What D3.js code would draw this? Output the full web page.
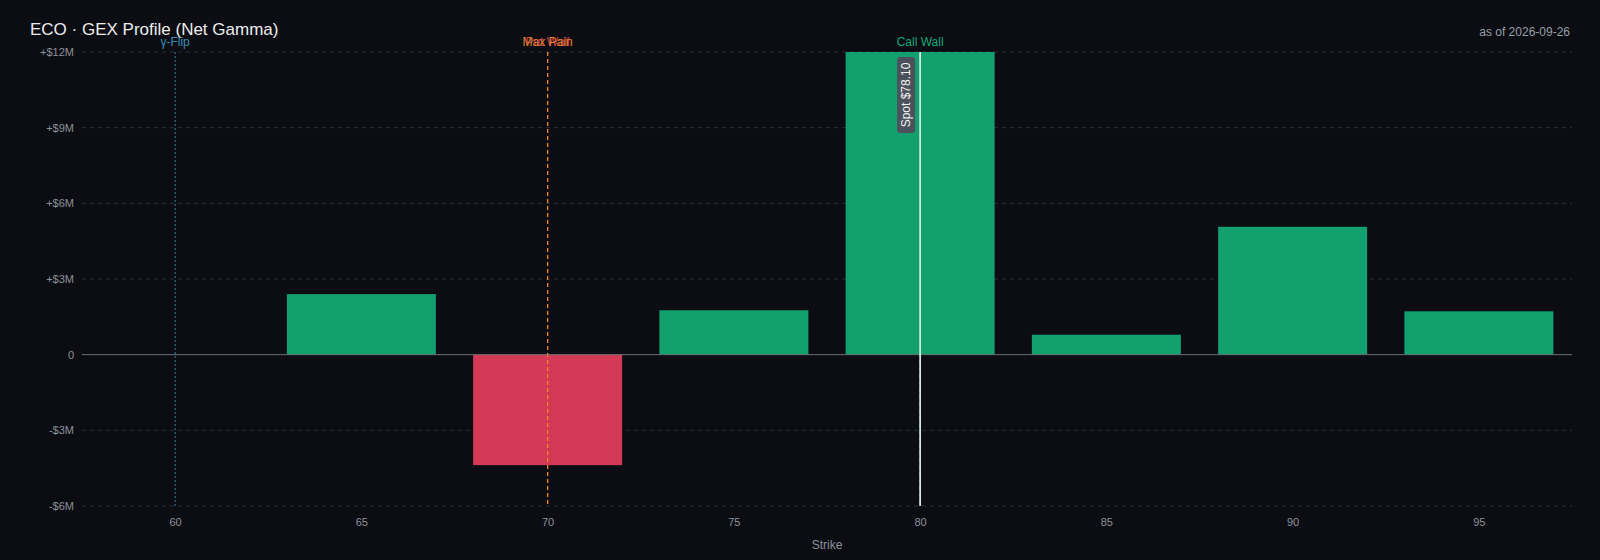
<!DOCTYPE html>
<html>
<head>
<meta charset="utf-8">
<script src="https://cdn.jsdelivr.net/npm/d3@7"></script>
<style>
  html, body { margin: 0; padding: 0; background: #0b0d13; }
  svg { display: block; font-family: "Liberation Sans", Arial, sans-serif; }
</style>
</head>
<body>
<svg id="chart" width="1600" height="560"></svg>
<script>
// data ($M net gamma exposure per strike)
var strikes = [60, 65, 70, 75, 80, 85, 90, 95];
var netGamma = [0, 2.40, -4.38, 1.76, 12.0, 0.79, 5.07, 1.72];
var yTicks = [-6, -3, 0, 3, 6, 9, 12];

// key levels
var gammaFlip = 60;
var maxPain = 70;
var putWall = 70;
var callWall = 80;
var spotPrice = 78.10;
var asOfDate = "2026-09-26";
var ticker = "ECO";

var width = 1600, height = 560;
var margin = {top: 52, right: 28, bottom: 54, left: 82};

var svg = d3.select("#chart");

var x = d3.scaleLinear()
	.domain([d3.min(strikes) - 2.5, d3.max(strikes) + 2.5])
	.range([margin.left, width - margin.right]);

var y = d3.scaleLinear()
	.domain([d3.min(yTicks), d3.max(yTicks)])
	.range([height - margin.bottom, margin.top]);

var barW = 4; // strike units (spacing 5 * 0.8)

function fmtM(v) {
	if (v == 0) return "0";
	return (v > 0 ? "+$" : "-$") + Math.abs(v) + "M";
}

//grid
svg.append("g")
	.selectAll("line")
	.data(yTicks.filter(function(t) { return t != 0; }))
	.join("line")
	.attr("x1", margin.left).attr("x2", width - margin.right)
	.attr("y1", function(d) { return y(d); }).attr("y2", function(d) { return y(d); })
	.attr("stroke", "#2a2e36")
	.attr("stroke-dasharray", "4,4");

//y axis
var yAxis = svg.append("g")
	.attr("transform", "translate(" + margin.left + ",0)")
	.call(d3.axisLeft(y).tickValues(yTicks).tickFormat(fmtM).tickSize(0).tickPadding(8));
yAxis.select(".domain").remove();
yAxis.selectAll("text").attr("fill", "#8e9198").attr("font-size", 11);

//x axis
var xAxis = svg.append("g")
	.attr("transform", "translate(0," + (height - margin.bottom) + ")")
	.call(d3.axisBottom(x).tickValues(strikes).tickFormat(d3.format("d")).tickSize(0).tickPadding(12));
xAxis.select(".domain").remove();
xAxis.selectAll("text").attr("fill", "#8e9198").attr("font-size", 11);

svg.append("text")
	.attr("x", (margin.left + width - margin.right) / 2)
	.attr("y", height - 11)
	.attr("text-anchor", "middle")
	.attr("fill", "#8e9198")
	.attr("font-size", 12)
	.text("Strike");

//bars
svg.append("g")
	.selectAll("rect")
	.data(strikes.map(function(s, i) { return {strike: s, value: netGamma[i]}; }))
	.join("rect")
	.attr("x", function(d) { return x(d.strike - barW / 2); })
	.attr("width", function(d) { return x(d.strike + barW / 2) - x(d.strike - barW / 2); })
	.attr("y", function(d) { return y(Math.max(0, d.value)); })
	.attr("height", function(d) { return Math.abs(y(d.value) - y(0)); })
	.attr("fill", function(d) { return d.value >= 0 ? "#12a06f" : "#d43a56"; });

//zero line
svg.append("line")
	.attr("x1", margin.left).attr("x2", width - margin.right)
	.attr("y1", y(0)).attr("y2", y(0))
	.attr("stroke", "#6a707b")
	.attr("stroke-width", 1);

//level lines
var plotTop = margin.top, plotBottom = height - margin.bottom;
function vline(v, color, dash, w) {
	svg.append("line")
		.attr("x1", x(v)).attr("x2", x(v))
		.attr("y1", plotTop).attr("y2", plotBottom)
		.attr("stroke", color)
		.attr("stroke-width", w)
		.attr("stroke-dasharray", dash);
}
function vlabel(v, color, txt) {
	svg.append("text")
		.attr("x", x(v)).attr("y", plotTop - 6)
		.attr("text-anchor", "middle")
		.attr("fill", color)
		.attr("font-size", 12)
		.text(txt);
}

vline(gammaFlip, "#3a8db5", "2,2", 0.9);
vline(putWall, "#d43a56", "4,3", 1.2);
vline(maxPain, "#e8892b", "4,3", 1.2);
vline(callWall, "#12a06f", "4,3", 1.2);

// spot snapped to nearest strike
var spotStrike = strikes.reduce(function(a, b) {
	return Math.abs(b - spotPrice) < Math.abs(a - spotPrice) ? b : a;
});
vline(spotStrike, "#e4f6ef", null, 1.6);

vlabel(gammaFlip, "#3a8db5", "\u03b3-Flip");
vlabel(putWall, "#d43a56", "Put Wall");
vlabel(maxPain, "#e0862c", "Max Pain");
vlabel(callWall, "#19a877", "Call Wall");

//spot tag
var tag = svg.append("g")
	.attr("transform", "translate(" + (x(spotStrike) - 14) + "," + (plotTop + 43) + ") rotate(-90)");
tag.append("rect")
	.attr("x", -38).attr("y", -9)
	.attr("width", 76).attr("height", 18)
	.attr("rx", 3)
	.attr("fill", "#4b525b");
tag.append("text")
	.attr("x", 0).attr("y", 4)
	.attr("text-anchor", "middle")
	.attr("fill", "#f2f2f2")
	.attr("font-size", 12)
	.text("Spot $" + spotPrice.toFixed(2));

//title
svg.append("text")
	.attr("x", 30).attr("y", 35)
	.attr("fill", "#ececec")
	.attr("font-size", 17)
	.text(ticker + " \u00b7 GEX Profile (Net Gamma)");

svg.append("text")
	.attr("x", width - 30).attr("y", 36)
	.attr("text-anchor", "end")
	.attr("fill", "#9a9fa7")
	.attr("font-size", 12)
	.text("as of " + asOfDate);
</script>
</body>
</html>
